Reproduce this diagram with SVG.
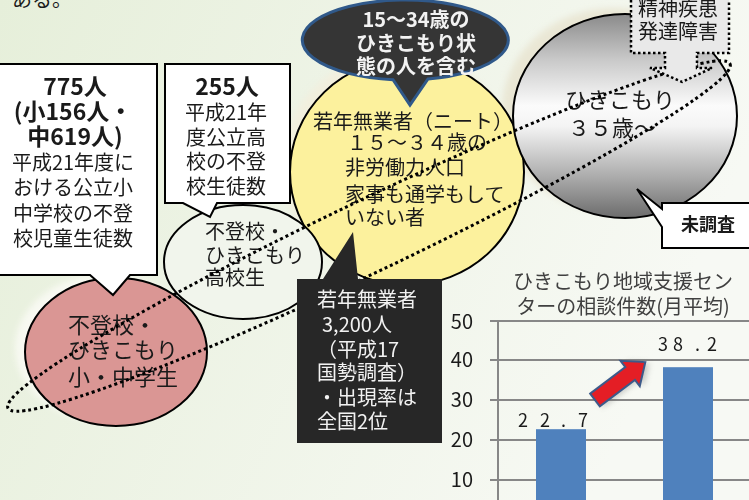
<svg xmlns="http://www.w3.org/2000/svg" width="749" height="500" viewBox="0 0 749 500">
<defs>
<linearGradient id="bg" x1="0" y1="0" x2="1" y2="0.3">
<stop offset="0" stop-color="#e6efda"/>
<stop offset="1" stop-color="#f7f9f4"/>
</linearGradient>
<linearGradient id="gray" x1="0" y1="0" x2="0" y2="1">
<stop offset="0" stop-color="#8a8a8a"/>
<stop offset="0.22" stop-color="#c8c8c8"/>
<stop offset="0.45" stop-color="#fbfbfb"/>
<stop offset="0.55" stop-color="#f4f4f4"/>
<stop offset="0.8" stop-color="#ababab"/>
<stop offset="1" stop-color="#6c6c6c"/>
</linearGradient>
<filter id="blur" x="-20%" y="-20%" width="140%" height="140%"><feGaussianBlur stdDeviation="3"/></filter>
<style>
text{font-family:"Noto Sans CJK JP","Noto Sans",sans-serif;font-size:20px;fill:#1a1a1a}
.b{font-weight:bold}
.big{font-size:23px}
.w{fill:#f2f2f2}
.c{text-anchor:middle}
.e{text-anchor:end}
.ln{stroke:#000;stroke-width:2}
.grid{stroke:#878787;stroke-width:2}
.bar{fill:#4f81bd}
</style>
</defs>
<rect width="749" height="500" fill="url(#bg)"/>
<text x="12" y="7">ある。</text>

<g id="glows" filter="url(#blur)">
<ellipse cx="106" cy="348" rx="91" ry="74" fill="#fbfbf6" opacity="0.8"/>
<ellipse cx="399" cy="166" rx="117" ry="113" fill="#f2eedc" opacity="0.8"/>
<ellipse cx="614" cy="110" rx="112" ry="102" fill="#e9e5d3" opacity="0.9"/>
</g>

<g id="yellow">
<ellipse cx="407" cy="172" rx="117" ry="113" fill="#fcf19d" class="ln"/>
<text x="313" y="129">若年無業者（ニート）</text>
<text x="347" y="150">１５～３４歳の</text>
<text x="345" y="175">非労働力人口</text>
<text x="345" y="202">家事も通学もして</text>
<text x="345" y="225">いない者</text>
</g>

<g id="highschool">
<ellipse cx="243" cy="262" rx="79" ry="57" fill="#f1f5ec" class="ln"/>
<text x="205" y="239">不登校・</text>
<text x="205" y="263">ひきこもり</text>
<text x="205" y="285">高校生</text>
</g>

<g id="elementary">
<ellipse cx="116" cy="352" rx="91" ry="74" fill="#da9694" class="ln"/>
<text x="68" y="333" style="font-size:22px">不登校・</text>
<text x="68" y="358" style="font-size:22px">ひきこもり</text>
<text x="68" y="385" style="font-size:22px">小・中学生</text>
</g>

<g id="hikikomori35">
<ellipse cx="625" cy="116" rx="112" ry="102" fill="url(#gray)" class="ln"/>
<text x="565" y="108" style="font-size:22px">ひきこもり</text>
<text x="568" y="136" style="font-size:22px">３５歳～</text>
</g>

<g id="scope">
<ellipse cx="369" cy="236" rx="400" ry="36" transform="rotate(-25.5 369 236)" fill="none" stroke="#000" stroke-width="3" stroke-dasharray="3 3"/>
</g>

<g id="box775">
<path d="M-2,64 H157 V275 H130 L113,295 L90,275 H-2 Z" fill="#fff" class="ln"/>
<text x="75" y="95" class="c b big">775人</text>
<text x="73" y="120" class="c b big">(小156人・</text>
<text x="75" y="145" class="c b big">中619人)</text>
<text x="73" y="170" class="c">平成21年度に</text>
<text x="73" y="195" class="c">おける公立小</text>
<text x="73" y="221" class="c">中学校の不登</text>
<text x="73" y="246" class="c">校児童生徒数</text>
</g>

<g id="box255">
<path d="M165,64 H290 V203 H217 L210,217 L183,203 H165 Z" fill="#fff" class="ln"/>
<text x="227" y="95" class="c b big">255人</text>
<text x="226" y="120" class="c">平成21年</text>
<text x="226" y="145" class="c">度公立高</text>
<text x="226" y="169" class="c">校の不登</text>
<text x="226" y="194" class="c">校生徒数</text>
</g>

<g id="bubble1534">
<path d="M393,79.7 A103,40 0 1 1 428,79 L410,105 Z" fill="#353535" stroke="#30598a" stroke-width="3"/>
<text x="416" y="27" class="c b w">15～34歳の</text>
<text x="416" y="51" class="c b w">ひきこもり状</text>
<text x="416" y="74" class="c b w">態の人を含む</text>
</g>

<g id="neet">
<path d="M297,279 H323 L353,232 L358,279 H442 V443 H297 Z" fill="#272727"/>
<text x="317" y="307" class="w">若年無業者</text>
<text x="322" y="332" class="w">3,200人</text>
<text x="317" y="357" class="w">（平成17</text>
<text x="317" y="380" class="w">国勢調査）</text>
<text x="317" y="405" class="w">・出現率は</text>
<text x="317" y="429" class="w">全国2位</text>
</g>

<g id="mental">
<path d="M631,-5 V53 H665 V68 H650 L682,82 L712,68 H697 V53 H729 V-5" fill="#e9e9e9" stroke="#000" stroke-width="2.5" stroke-dasharray="2.5 2.5"/>
<text x="678" y="16" class="c">精神疾患</text>
<text x="678" y="39" class="c">発達障害</text>
</g>

<g id="unsurveyed">
<path d="M662,203 H760 V248 H662 V227 L637,189 L662,209 Z" fill="#fff" class="ln"/>
<text x="708" y="231" class="c b" style="font-size:18px">未調査</text>
</g>

<g id="chart">
<text x="623" y="289" class="c" style="fill:#404040">ひきこもり地域支援セン</text>
<text x="623" y="314" class="c" style="fill:#404040">ターの相談件数(月平均)</text>
<line x1="490" y1="321" x2="749" y2="321" class="grid"/>
<line x1="490" y1="360" x2="749" y2="360" class="grid"/>
<line x1="490" y1="400" x2="749" y2="400" class="grid"/>
<line x1="490" y1="440" x2="749" y2="440" class="grid"/>
<line x1="490" y1="480" x2="749" y2="480" class="grid"/>
<line x1="498" y1="320" x2="498" y2="500" class="grid"/>
<text x="473" y="329" class="e">50</text>
<text x="473" y="367" class="e">40</text>
<text x="473" y="407" class="e">30</text>
<text x="473" y="447" class="e">20</text>
<text x="473" y="487" class="e">10</text>
<rect x="536" y="429.2" width="50" height="71" class="bar"/>
<rect x="663" y="367.2" width="50" height="133" class="bar"/>
<text x="518 540 561 578" y="427" style="font-size:18px">22.7</text>
<text x="658 673 695 707" y="351" style="font-size:18px">38.2</text>
</g>

<g id="connectors">
<g transform="translate(595,400) rotate(-37)">
<polygon points="0,-7 45,-7 45,-15 63,0 45,15 45,7 0,7" fill="#555" opacity="0.35" transform="translate(2,3)" filter="url(#blur)"/>
<polygon points="0,-8 44,-8 44,-16 63,0 44,16 44,8 0,8" fill="#e41e25" stroke="#3c5a8a" stroke-width="2"/>
</g>
</g>
</svg>
